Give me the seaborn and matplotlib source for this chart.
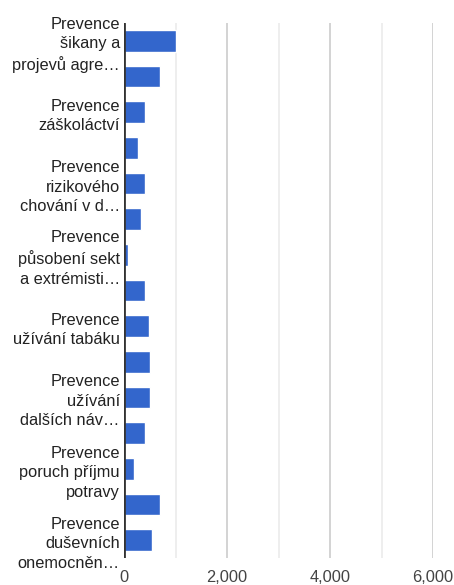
import matplotlib
matplotlib.use("Agg")
import matplotlib.pyplot as plt
import seaborn as sns
import pandas as pd
from matplotlib.ticker import MultipleLocator, FuncFormatter

# categories (only every other one is labelled in the chart)
categories = [
    "Prevence šikany a projevů agrese",
    "Prevence kyberšikany",
    "Prevence záškoláctví",
    "Prevence rasismu a xenofobie",
    "Prevence rizikového chování v dopravě",
    "Prevence rizikových sportů",
    "Prevence působení sekt a extrémistických hnutí",
    "Prevence rizikového sexuálního chování",
    "Prevence užívání tabáku",
    "Prevence užívání alkoholu",
    "Prevence užívání dalších návykových látek",
    "Prevence netolismu",
    "Prevence poruch příjmu potravy",
    "Prevence gamblingu",
    "Prevence duševních onemocnění",
]
values = [1010, 700, 410, 270, 410, 325, 75, 410, 480, 500, 500, 410, 190, 700, 545]
shown_labels = [
    "Prevence\nšikany a\nprojevů agre…",
    "Prevence\nzáškoláctví",
    "Prevence\nrizikového\nchování v d…",
    "Prevence\npůsobení sekt\na extrémisti…",
    "Prevence\nužívání tabáku",
    "Prevence\nužívání\ndalších náv…",
    "Prevence\nporuch příjmu\npotravy",
    "Prevence\nduševních\nonemocněn…",
]

df = pd.DataFrame({"kategorie": categories, "pocet": values})

sns.set_theme(style="white")
plt.rcParams["font.family"] = ["Liberation Sans", "DejaVu Sans"]

fig = plt.figure(figsize=(4.54, 5.85), dpi=100)
ax = fig.add_axes([124 / 454, 1 - 558 / 585, (433 - 124) / 454, (558 - 23) / 585])

sns.barplot(data=df, x="pocet", y="kategorie", orient="h", color="#3366cc",
            saturation=1, width=0.6, ax=ax, zorder=3)

ax.set_xlim(0, 6000)
ax.xaxis.set_major_locator(MultipleLocator(2000))
ax.xaxis.set_minor_locator(MultipleLocator(1000))
ax.xaxis.set_major_formatter(FuncFormatter(lambda v, p: f"{int(v):,}"))
ax.grid(axis="x", which="major", color="#cccccc", linewidth=1.2, zorder=0)
ax.grid(axis="x", which="minor", color="#ebebeb", linewidth=1.2, zorder=0)
ax.axvline(0, color="#333333", linewidth=2, zorder=4)

ax.set_yticks(range(0, len(categories), 2))
ax.set_yticklabels(shown_labels, fontsize=11.8, color="#222222",
                   linespacing=1.38, ha="right")
ax.tick_params(axis="y", length=0, pad=3)
ax.tick_params(axis="x", which="both", length=0, pad=8.5, labelsize=11.8,
               labelcolor="#444444")

ax.set_xlabel("")
ax.set_ylabel("")
for s in ax.spines.values():
    s.set_visible(False)

fig.savefig("out.png", dpi=100)
